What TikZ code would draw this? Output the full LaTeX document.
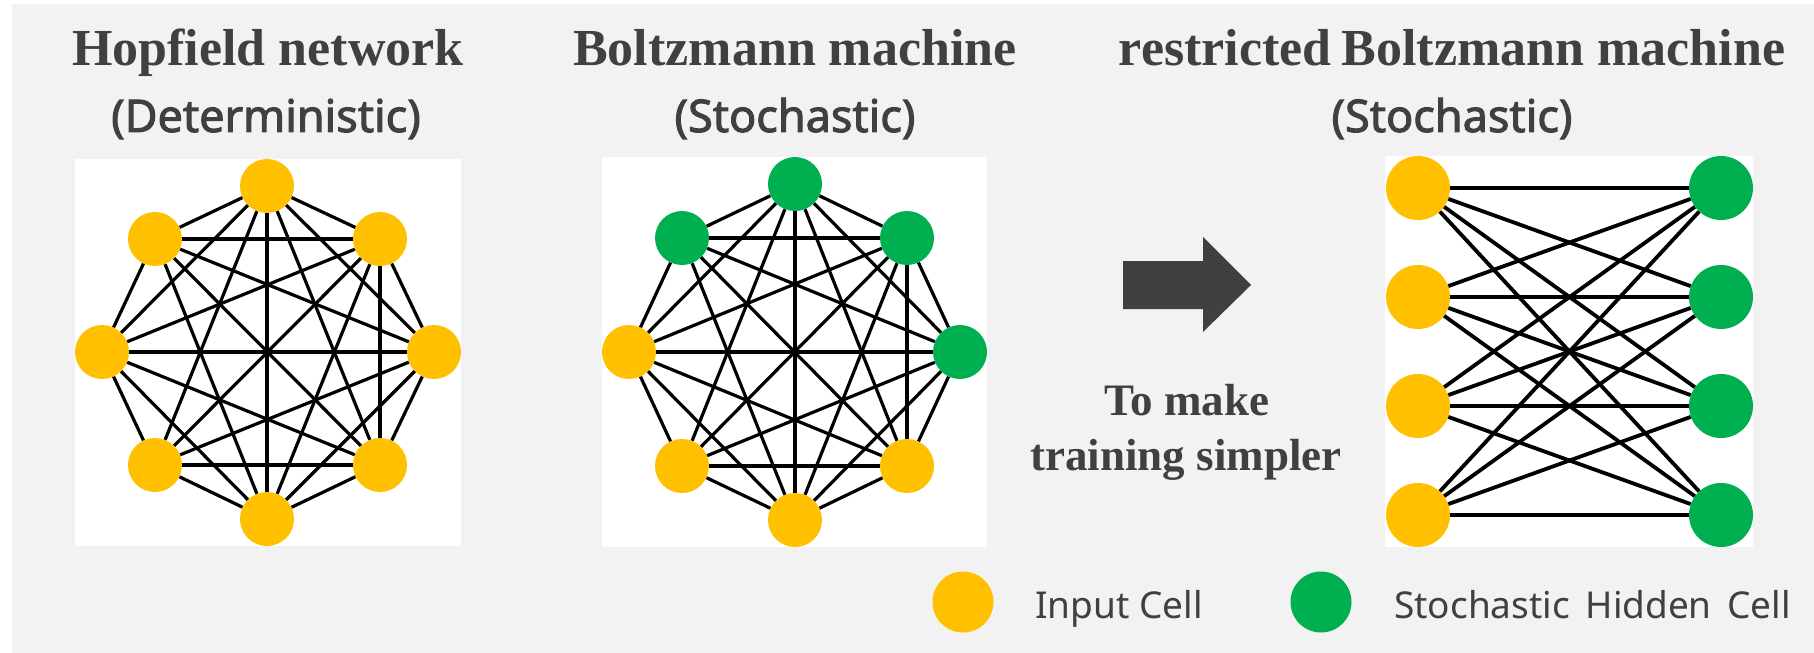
\documentclass[tikz,border=0pt]{standalone}
\usepackage{fontspec}
\setmainfont{Liberation Serif}
\newfontfamily\cellfont{Noto Sans}
\newfontfamily\cellboldfont{Noto Sans}[FakeBold=2.2]

\definecolor{cellyellow}{HTML}{FFC000}
\definecolor{cellgreen}{HTML}{00B050}
\definecolor{ink}{HTML}{404040}
\definecolor{panelbg}{HTML}{F2F2F2}

\tikzset{
  cell/.style={circle, inner sep=0pt, minimum size=54bp},
  incell/.style={cell, fill=cellyellow},
  hidcell/.style={cell, fill=cellgreen},
  bigcell/.style={minimum size=64bp},
  link/.style={draw=black, line width=3.2bp},
  rbmlink/.style={draw=black, line width=3.8bp},
  titletext/.style={font=\bfseries\fontsize{52bp}{60bp}\selectfont, text=ink, anchor=base, inner sep=0pt},
  subtext/.style={font=\cellboldfont\fontsize{45bp}{52bp}\selectfont, text=ink, anchor=base, inner sep=0pt},
  notetext/.style={font=\bfseries\fontsize{45bp}{54bp}\selectfont, text=ink, anchor=base, inner sep=0pt},
  keytext/.style={font=\cellfont\fontsize{37bp}{44bp}\selectfont, text=ink, anchor=base west, inner sep=0pt},
  panel/.style={fill=white, draw=none},
}

\begin{document}
\begin{tikzpicture}[x=1bp, y=-1bp]
  \useasboundingbox (0,0) rectangle (1814,653);
  \fill[white] (0,0) rectangle (1814,653);
  \fill[panelbg] (12,4) rectangle (1814,653);

  % white panels
  \fill[panel] (75,159) rectangle (461,546);
  \fill[panel] (602,157) rectangle (987,547);
  \fill[panel] (1385,156) rectangle (1753,547);

  % titles
  \node[titletext] (t1) at (268,66) {Hopfield network};
  \node[subtext]   (s1) at (266,132) {(Deterministic)};
  \node[titletext] (t2) at (795,66) {Boltzmann machine};
  \node[subtext]   (s2) at (795,132) {(Stochastic)};
  \node[titletext] (t3) at (1452,66) {restricted\hspace{-3bp} Boltzmann machine};
  \node[subtext]   (s3) at (1452,132) {(Stochastic)};

  % Hopfield network: eight deterministic cells
  \node[incell] (hT)  at (267,186) {};
  \node[incell] (hUL) at (155,239) {};
  \node[incell] (hUR) at (380,239) {};
  \node[incell] (hL)  at (102,352) {};
  \node[incell] (hR)  at (434,352) {};
  \node[incell] (hLL) at (155,465) {};
  \node[incell] (hLR) at (380,465) {};
  \node[incell] (hB)  at (267,519) {};

  % Boltzmann machine: four hidden, four input cells
  \node[hidcell] (bT)  at (795,184) {};
  \node[hidcell] (bUL) at (682,238) {};
  \node[hidcell] (bUR) at (907,238) {};
  \node[incell]  (bL)  at (629,352) {};
  \node[hidcell] (bR)  at (960,352) {};
  \node[incell]  (bLL) at (682,466) {};
  \node[incell]  (bLR) at (907,466) {};
  \node[incell]  (bB)  at (795,520) {};

  % connections of both fully linked nets
  \foreach \p in {h,b} {
    \foreach \x/\y in {T/UR, T/R, T/LR, T/B, T/LL, T/L, T/UL,
                       UR/R, UR/LR, UR/B, UR/LL, UR/L, UR/UL,
                       R/LR, R/B, R/LL, R/L, R/UL,
                       LR/B, LR/LL, LR/L, LR/UL,
                       B/LL, B/L, B/UL,
                       LL/L, L/UL}
      \draw[link] (\p\x) -- (\p\y);
  }

  % restricted Boltzmann machine: visible and hidden layers
  \foreach \i/\yy in {1/188, 2/297, 3/406, 4/515} {
    \node[incell, bigcell]  (v\i) at (1418,\yy) {};
    \node[hidcell, bigcell] (h\i) at (1721,\yy) {};
  }
  \foreach \i in {1,...,4}
    \foreach \j in {1,...,4}
      \draw[rbmlink] (v\i) -- (h\j);

  % block arrow and its note
  \fill[ink] (1123,261) -- (1203,261) -- (1203,237) -- (1251,285)
             -- (1203,332) -- (1203,309) -- (1123,309) -- cycle;
  \node[notetext] (n1) at (1187,415) {To make};
  \node[notetext] (n2) at (1186,470) {training simpler};

  % legend
  \node[incell, minimum size=61bp]  (kin)  at (963,602) {};
  \node[keytext] (kintext)  at (1035,618) {Input Cell};
  \node[hidcell, minimum size=61bp] (khid) at (1321,602) {};
  \node[keytext] (khidtext) at (1394,618) {Stochastic\hspace{6bp} Hidden\hspace{6bp} Cell};
\end{tikzpicture}
\end{document}
